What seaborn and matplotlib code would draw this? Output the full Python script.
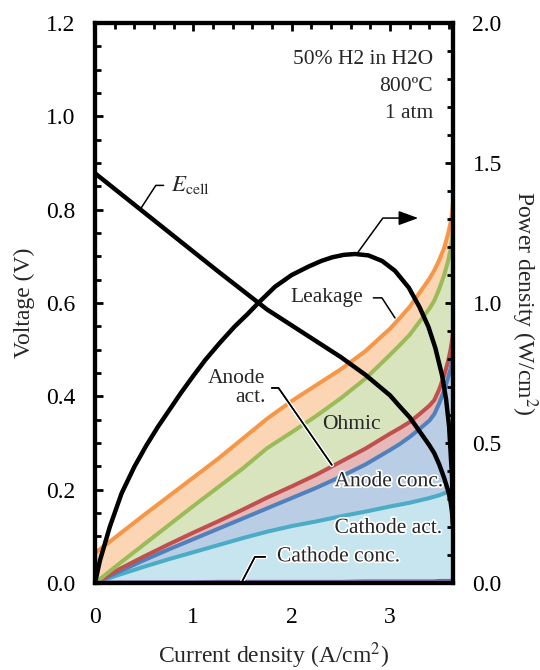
import matplotlib
matplotlib.use("Agg")
import matplotlib.pyplot as plt
import matplotlib.patheffects as pe
from matplotlib.ticker import MultipleLocator, FormatStrFormatter
import seaborn as sns

# ---------------- data ----------------
current = [0, 0.25, 0.5, 0.75, 1.0, 1.25, 1.5, 1.75, 2.0, 2.25, 2.5, 2.75,
           3.0, 3.1, 3.2, 3.3, 3.4, 3.45, 3.5, 3.55, 3.59, 3.615, 3.63, 3.64]
# cumulative voltage losses (V)
cathode_conc = [0.000, 0.001, 0.001, 0.001, 0.001, 0.002, 0.002, 0.002, 0.002, 0.002,
                0.002, 0.003, 0.003, 0.003, 0.003, 0.003, 0.003, 0.003, 0.004, 0.004,
                0.004, 0.004, 0.005, 0.005]
cathode_act = [0.000, 0.018, 0.035, 0.051, 0.066, 0.081, 0.096, 0.110, 0.122, 0.132,
               0.143, 0.153, 0.164, 0.168, 0.172, 0.177, 0.182, 0.185, 0.188, 0.192,
               0.196, 0.199, 0.202, 0.205]
anode_conc = [0.000, 0.025, 0.049, 0.072, 0.094, 0.116, 0.138, 0.160, 0.182, 0.204,
              0.228, 0.254, 0.285, 0.298, 0.313, 0.330, 0.348, 0.362, 0.385, 0.412,
              0.440, 0.458, 0.472, 0.485]
anode_act = [0.000, 0.030, 0.057, 0.083, 0.108, 0.132, 0.157, 0.183, 0.207, 0.232,
             0.260, 0.288, 0.320, 0.332, 0.345, 0.362, 0.380, 0.392, 0.415, 0.445,
             0.475, 0.500, 0.520, 0.538]
ohmic = [0.000, 0.042, 0.083, 0.124, 0.165, 0.205, 0.245, 0.289, 0.323, 0.358,
         0.396, 0.438, 0.489, 0.510, 0.532, 0.560, 0.588, 0.605, 0.630, 0.660,
         0.690, 0.714, 0.735, 0.756]
leakage = [0.064, 0.105, 0.146, 0.186, 0.226, 0.266, 0.309, 0.352, 0.390, 0.424,
           0.458, 0.497, 0.545, 0.568, 0.592, 0.622, 0.652, 0.670, 0.692, 0.718,
           0.748, 0.772, 0.792, 0.814]
e_cell = [0.878, 0.836, 0.794, 0.752, 0.710, 0.668, 0.627, 0.586, 0.552, 0.518,
          0.484, 0.446, 0.402, 0.378, 0.355, 0.325, 0.295, 0.278, 0.254, 0.225,
          0.198, 0.175, 0.152, 0.125]

power_current = [0, 0.05, 0.15, 0.27, 0.40, 0.52, 0.64, 0.76, 0.87, 1.0, 1.12, 1.27,
                 1.42, 1.55, 1.66, 1.83, 2.0, 2.17, 2.3, 2.41, 2.53, 2.645, 2.78,
                 2.92, 3.05, 3.19, 3.3, 3.39, 3.46, 3.53, 3.57, 3.6, 3.63, 3.64]
power = [0.000, 0.080, 0.200, 0.320, 0.415, 0.490, 0.558, 0.620, 0.677, 0.740, 0.796,
         0.858, 0.916, 0.960, 1.000, 1.058, 1.100, 1.130, 1.150, 1.163, 1.172, 1.175,
         1.170, 1.150, 1.115, 1.055, 0.985, 0.915, 0.840, 0.740, 0.655, 0.560, 0.380,
         0.200]

conditions = ["50% H2 in H2O", "800ºC", "1 atm"]

# ---------------- style ----------------
sns.set_theme(style="white")
plt.rcParams["font.family"] = ["Liberation Serif", "DejaVu Serif"]
plt.rcParams["mathtext.fontset"] = "stix"
plt.rcParams["axes.linewidth"] = 3.0

line_cols = {"cc": "#8064a2", "ca": "#4bacc6", "ac": "#4f81bd",
             "aa": "#c0504d", "oh": "#9bbb59", "lk": "#f79646"}
fill_cols = ["#c6e5ee", "#b9cde5", "#e6b9b8", "#d7e4bd", "#fcd5b5"]

fig = plt.figure(figsize=(5.4, 6.7), dpi=100)
ax = fig.add_axes([95 / 540, 1 - 583 / 670, (453 - 95) / 540, (583 - 23) / 670])
ax2 = ax.twinx()

# fills between cumulative loss curves
layers = [cathode_conc, cathode_act, anode_conc, anode_act, ohmic, leakage]
for lo, hi, fc in zip(layers[:-1], layers[1:], fill_cols):
    ax.fill_between(current, lo, hi, color=fc, lw=0, zorder=1)

lw_col = 2.9
for series, key in [(cathode_act, "ca"), (anode_conc, "ac"), (anode_act, "aa"),
                    (ohmic, "oh"), (leakage, "lk")]:
    sns.lineplot(x=current, y=series, ax=ax, color=line_cols[key], lw=lw_col,
                 zorder=2, solid_capstyle="butt", solid_joinstyle="round")
sns.lineplot(x=current, y=cathode_conc, ax=ax, color=line_cols["cc"], lw=3.2,
             zorder=3, clip_on=False, solid_capstyle="butt")

sns.lineplot(x=current, y=e_cell, ax=ax, color="black", lw=3.2, zorder=4,
             solid_capstyle="butt", solid_joinstyle="round")
sns.lineplot(x=power_current, y=power, ax=ax2, color="black", lw=3.2, zorder=4,
             solid_capstyle="butt", solid_joinstyle="round")

# ---------------- axes ----------------
ax.set_xlim(0, 3.64)
ax.set_ylim(0, 1.2)
ax2.set_ylim(0, 2.0)
ax.xaxis.set_major_locator(MultipleLocator(1))
ax.xaxis.set_minor_locator(MultipleLocator(0.2))
ax.yaxis.set_major_locator(MultipleLocator(0.2))
ax.yaxis.set_minor_locator(MultipleLocator(0.05))
ax2.yaxis.set_major_locator(MultipleLocator(0.5))
ax2.yaxis.set_minor_locator(MultipleLocator(0.1))
ax.yaxis.set_major_formatter(FormatStrFormatter("%.1f"))
ax2.yaxis.set_major_formatter(FormatStrFormatter("%.1f"))
ax.xaxis.set_major_formatter(FormatStrFormatter("%d"))

ax.tick_params(axis="both", which="both", direction="in", top=True, right=False,
               width=2.0, colors="black", labelsize=17)
ax.tick_params(which="major", length=6)
ax.tick_params(which="minor", length=4)
ax.tick_params(axis="y", pad=14)
ax.tick_params(axis="x", pad=17)
ax2.tick_params(axis="y", which="both", direction="in", width=2.0, labelsize=17,
                pad=14, colors="black")
ax2.tick_params(axis="y", which="major", length=6)
ax2.tick_params(axis="y", which="minor", length=4)
for a in (ax, ax2):
    for s in a.spines.values():
        s.set_linewidth(3.0)
        s.set_color("black")
        s.set_visible(True)
ax.grid(False)
ax2.grid(False)

ax.set_xlabel("Current density (A/cm$^2$)", fontsize=17, labelpad=9)
ax.set_ylabel("Voltage (V)", fontsize=17, labelpad=8)
ax2.set_ylabel("Power density (W/cm$^2$)", fontsize=17, rotation=270, labelpad=27)

# ---------------- annotations ----------------
fs = 15.5
halo = [pe.withStroke(linewidth=2.5, foreground="white")]
line_halo = [pe.withStroke(linewidth=3.2, foreground="white")]

ax.text(3.435, 1.112, conditions[0], ha="right", va="baseline", fontsize=fs)
ax.text(3.435, 1.055, conditions[1], ha="right", va="baseline", fontsize=fs)
ax.text(3.435, 0.997, conditions[2], ha="right", va="baseline", fontsize=fs)

ax.annotate(r"$E_{\mathrm{cell}}$", xy=(0.458, 0.800), xytext=(0.773, 0.852),
            ha="left", va="center", fontsize=16.5, zorder=6,
            arrowprops=dict(arrowstyle="-", color="black", lw=1.1, shrinkA=3, shrinkB=0,
                            connectionstyle="angle,angleA=0,angleB=57,rad=0"))

ax.annotate("", xy=(3.286, 0.782), xytext=(2.675, 0.709), zorder=6,
            arrowprops=dict(arrowstyle="-|>,head_length=0.6,head_width=0.22",
                            color="black", fc="black", lw=1.1, shrinkA=0, shrinkB=0,
                            mutation_scale=20,
                            connectionstyle="angle,angleA=54,angleB=0,rad=0"))

ax.annotate("Leakage", xy=(3.05, 0.568), xytext=(2.726, 0.611), ha="right",
            va="center", fontsize=fs, zorder=6,
            arrowprops=dict(arrowstyle="-", color="black", lw=1.1, shrinkA=5, shrinkB=0,
                            connectionstyle="angle,angleA=0,angleB=123,rad=0"))

a_act = ax.annotate("Anode\nact.", xy=(2.408, 0.253), xytext=(1.735, 0.418), ha="right",
                    va="center", multialignment="right", fontsize=fs, zorder=6,
                    linespacing=0.95,
                    arrowprops=dict(arrowstyle="-", color="black", lw=1.1, shrinkA=2,
                                    shrinkB=0,
                                    connectionstyle="angle,angleA=0,angleB=124.7,rad=0"))
a_act.arrow_patch.set_path_effects(line_halo + [pe.Normal()])

c_conc = ax.annotate("Cathode conc.", xy=(1.495, 0.003), xytext=(1.85, 0.056), ha="left",
                     va="center", fontsize=fs, zorder=6,
                     arrowprops=dict(arrowstyle="-", color="black", lw=1.1, shrinkA=6,
                                     shrinkB=0,
                                     connectionstyle="angle,angleA=0,angleB=62.5,rad=0"))
c_conc.arrow_patch.set_path_effects(line_halo + [pe.Normal()])
c_conc.set_path_effects(halo)

ax.text(2.61, 0.339, "Ohmic", ha="center", va="center", fontsize=fs, zorder=6)
ax.text(3.54, 0.217, "Anode conc.", ha="right", va="center", fontsize=fs, zorder=6,
        path_effects=halo)
ax.text(3.53, 0.117, "Cathode act.", ha="right", va="center", fontsize=fs, zorder=6,
        path_effects=halo)

fig.savefig("out.png", dpi=100)
